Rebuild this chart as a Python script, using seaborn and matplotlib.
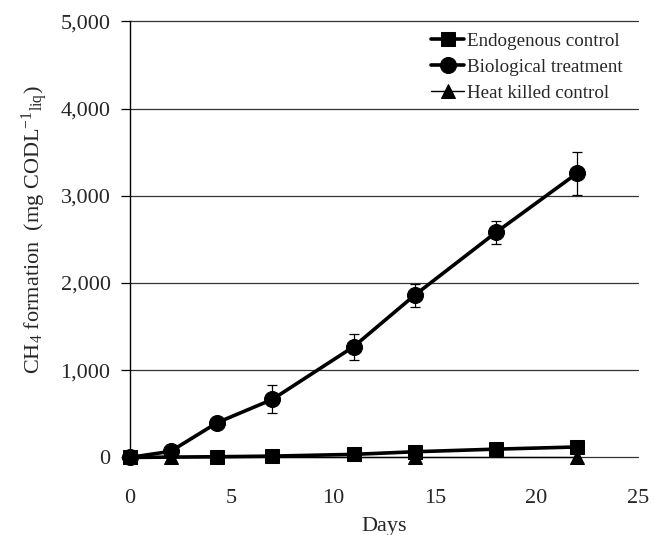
"""CH4 formation over time for three treatments."""

import matplotlib

matplotlib.use("Agg")

import matplotlib.pyplot as plt
import seaborn as sns
from matplotlib.ticker import FuncFormatter, MultipleLocator

# days and CH4 formation (mg COD per L liquid)
bio_days = [0, 2, 4.3, 7, 11, 14, 18, 22]
bio_vals = [0, 70, 400, 665, 1270, 1860, 2580, 3260]
bio_err = [0, 0, 0, 160, 150, 130, 135, 245]

endo_days = [0, 4.3, 7, 11, 14, 18, 22]
endo_vals = [0, 8, 15, 35, 65, 95, 120]

heat_days = [0, 2, 14, 22]
heat_vals = [0, 0, 0, 0]

x_ticks = [0, 5, 10, 15, 20, 25]

sns.set_theme(style="white")
plt.rcParams["font.family"] = ["Liberation Serif", "DejaVu Serif"]
plt.rcParams["mathtext.fontset"] = "custom"
plt.rcParams["mathtext.rm"] = "Liberation Serif"
plt.rcParams["mathtext.it"] = "Liberation Serif:italic"

fig = plt.figure(figsize=(6.6, 5.35), dpi=100)
ax = fig.add_axes([0.197, 0.145, 0.770, 0.815])

for y in range(0, 5001, 1000):
    ax.axhline(y, color="#333333", linewidth=0.9, zorder=1, clip_on=False)

sns.lineplot(x=heat_days, y=heat_vals, ax=ax, color="black", linewidth=1.0,
             marker="^", markersize=10, markeredgecolor="black",
             label="Heat killed control", zorder=3, clip_on=False)
sns.lineplot(x=bio_days, y=bio_vals, ax=ax, color="black", linewidth=2.6,
             marker="o", markersize=11.5, markeredgecolor="black",
             label="Biological treatment", zorder=4, clip_on=False)
sns.lineplot(x=endo_days, y=endo_vals, ax=ax, color="black", linewidth=2.6,
             marker="s", markersize=10.5, markeredgecolor="black",
             label="Endogenous control", zorder=5, clip_on=False)
ax.errorbar(bio_days, bio_vals, yerr=bio_err, fmt="none", ecolor="black",
            elinewidth=0.9, capsize=3.5, capthick=0.9, zorder=4)

ax.set_xlim(0, 25)
ax.set_ylim(0, 5000)
ax.set_xticks(x_ticks)
ax.yaxis.set_major_locator(MultipleLocator(1000))
ax.yaxis.set_major_formatter(FuncFormatter(lambda v, p: f"{int(v):,}"))

for side in ["top", "right", "bottom"]:
    ax.spines[side].set_visible(False)
ax.spines["left"].set_color("black")
ax.spines["left"].set_linewidth(1.0)
ax.tick_params(axis="y", left=True, direction="out", length=6.5, width=0.9,
               color="black", labelsize=16, pad=7.5)
ax.tick_params(axis="x", bottom=False, labelsize=16, pad=17)

ax.set_xlabel("Days", fontsize=16, labelpad=6)
ax.set_ylabel(r"CH$_4$ formation  (mg CODL$^{-1}$$_{\mathrm{liq}}$)",
              fontsize=16, labelpad=8)
ax.yaxis.set_label_coords(-0.158, 0.523)

handles, labels = ax.get_legend_handles_labels()
order = [labels.index(n) for n in
         ["Endogenous control", "Biological treatment", "Heat killed control"]]
ax.legend([handles[i] for i in order], [labels[i] for i in order],
          loc="upper right", bbox_to_anchor=(0.995, 1.005), frameon=False,
          fontsize=13.7, handlelength=1.75, handletextpad=0.12,
          labelspacing=0.45, borderaxespad=0.3)

fig.savefig("out.png", dpi=100)
plt.close(fig)
